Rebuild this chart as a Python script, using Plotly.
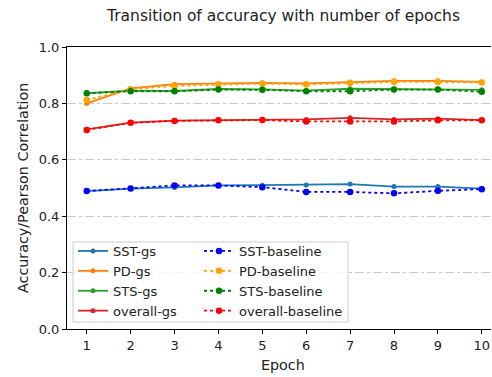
import plotly.graph_objects as go

epochs = [1, 2, 3, 4, 5, 6, 7, 8, 9, 10]

sst_gs = [0.489, 0.498, 0.502, 0.509, 0.510, 0.511, 0.514, 0.505, 0.505, 0.498]
pd_gs = [0.800, 0.853, 0.868, 0.870, 0.873, 0.871, 0.876, 0.880, 0.880, 0.876]
sts_gs = [0.836, 0.845, 0.844, 0.851, 0.850, 0.845, 0.852, 0.851, 0.851, 0.848]
overall_gs = [0.708, 0.732, 0.739, 0.741, 0.743, 0.743, 0.749, 0.743, 0.746, 0.741]

sst_base = [0.489, 0.498, 0.509, 0.509, 0.503, 0.486, 0.486, 0.481, 0.490, 0.496]
pd_base = [0.812, 0.850, 0.862, 0.867, 0.870, 0.867, 0.872, 0.876, 0.876, 0.874]
sts_base = [0.836, 0.843, 0.843, 0.849, 0.848, 0.843, 0.843, 0.849, 0.849, 0.841]
overall_base = [0.706, 0.731, 0.738, 0.740, 0.741, 0.736, 0.736, 0.736, 0.740, 0.740]

gs_series = [("SST-gs", sst_gs, "#1f77b4"), ("PD-gs", pd_gs, "#ff7f0e"),
             ("STS-gs", sts_gs, "#2ca02c"), ("overall-gs", overall_gs, "#d62728")]
base_series = [("SST-baseline", sst_base, "blue"), ("PD-baseline", pd_base, "orange"),
               ("STS-baseline", sts_base, "green"), ("overall-baseline", overall_base, "red")]

FONT = "DejaVu Sans"
W, H = 492, 377
L, R, T, B = 67, 1, 47, 48
PW = W - L - R
PH = H - T - B
X0 = 67   # absolute x of plot left edge
Y0 = 329  # absolute y of plot bottom edge


def px_x(ax):
    return (ax - X0) / PW


def px_y(ay):
    return (Y0 - ay) / PH


fig = go.Figure()
for name, vals, col in gs_series:
    fig.add_trace(go.Scatter(x=epochs, y=vals, name=name, mode="lines+markers",
                             line=dict(color=col, width=1.8),
                             marker=dict(color=col, size=5),
                             legend="legend"))
for name, vals, col in base_series:
    fig.add_trace(go.Scatter(x=epochs, y=vals, name=name, mode="lines+markers",
                             line=dict(color=col, width=1.8, dash="dot"),
                             marker=dict(color=col, size=6.5),
                             legend="legend2"))

leg_common = dict(orientation="v", yanchor="top", xanchor="left",
                  bgcolor="rgba(0,0,0,0)", borderwidth=0,
                  font=dict(family=FONT, size=13, color="#222"),
                  traceorder="normal", tracegroupgap=0)

fig.update_layout(
    width=W, height=H,
    margin=dict(l=L, r=R, t=T, b=B, autoexpand=False),
    paper_bgcolor="white", plot_bgcolor="white",
    font=dict(family=FONT, size=13, color="#222"),
    showlegend=True,
    hovermode=False,
    legend=dict(x=px_x(73), y=px_y(236), **leg_common),
    legend2=dict(x=px_x(199), y=px_y(236), **leg_common),
    xaxis=dict(range=[0.55, 10.21], tickmode="array", tickvals=epochs,
               ticktext=[str(e) for e in epochs],
               showgrid=False, zeroline=False, showline=True, mirror=True,
               linecolor="black", linewidth=1, ticks="outside", ticklen=4,
               tickcolor="black", tickfont=dict(size=13, color="#222")),
    yaxis=dict(range=[0, 1.0], tickmode="array", tickvals=[0, 0.2, 0.4, 0.6, 0.8, 1.0],
               ticktext=["0.0", "0.2", "0.4", "0.6", "0.8", "1.0"],
               showgrid=True, gridcolor="#c8c8c8", griddash="dashdot", gridwidth=1,
               zeroline=False, showline=True, linecolor="black", linewidth=1,
               ticks="outside", ticklen=4, tickcolor="black",
               tickfont=dict(size=13, color="#222")),
    shapes=[
        dict(type="rect", xref="paper", yref="paper", layer="above",
             x0=px_x(73), x1=px_x(348), y0=px_y(322), y1=px_y(242),
             fillcolor="rgba(255,255,255,0.8)", line=dict(color="#cccccc", width=1)),
    ],
    annotations=[
        dict(text="Transition of accuracy with number of epochs", xref="paper", yref="paper",
             x=px_x(283), y=1.0, yshift=31, xanchor="center", yanchor="middle",
             showarrow=False, font=dict(family=FONT, size=15.5, color="#222")),
        dict(text="Epoch", xref="paper", yref="paper", x=px_x(283), y=0,
             yshift=-36, xanchor="center", yanchor="middle", showarrow=False,
             font=dict(family=FONT, size=14.3, color="#222")),
        dict(text="Accuracy/Pearson Correlation", xref="paper", yref="paper",
             x=0, xshift=-44, y=0.5, xanchor="center", yanchor="middle", textangle=-90,
             showarrow=False, font=dict(family=FONT, size=14.3, color="#222")),
    ],
)

fig.write_html("out.html", config={"displayModeBar": False},
               post_script="document.body.style.margin='0';document.body.style.overflow='hidden';")
